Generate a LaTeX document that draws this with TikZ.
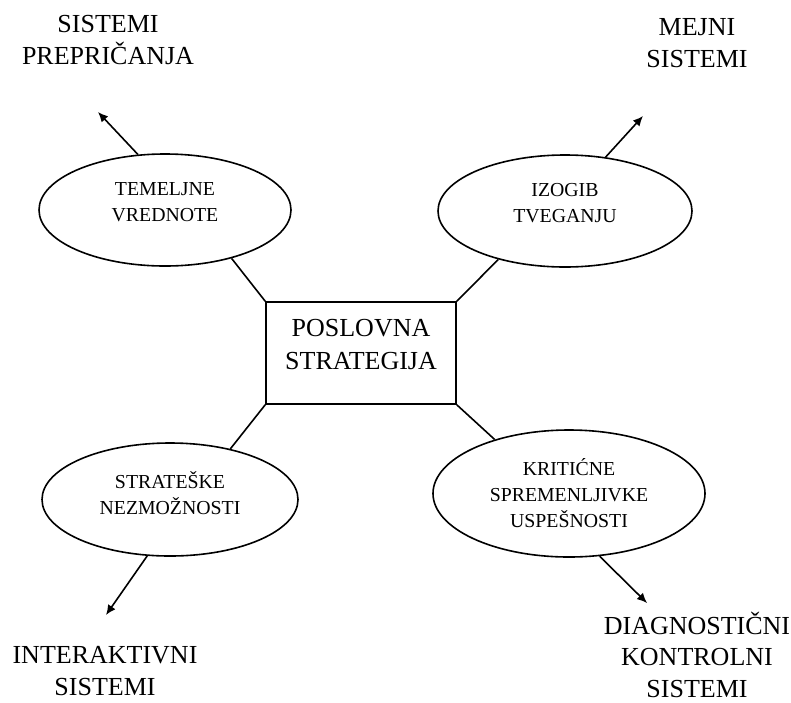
\documentclass[tikz,border=0pt]{standalone}
\usepackage{fontspec}
\setmainfont{Liberation Serif}
\usetikzlibrary{shapes.geometric,arrows.meta}

\begin{document}
\begin{tikzpicture}[x=0.5pt,y=-0.5pt,
  every node/.style={inner sep=0pt},
  ell/.style={draw,ellipse,line width=0.8pt,align=center,font=\fontsize{9.9}{13}\selectfont},
  box/.style={draw,rectangle,line width=0.8pt,align=center,minimum width=95pt,minimum height=51pt,font=\fontsize{13}{16.5}\selectfont},
  lbl/.style={align=center,font=\fontsize{13}{15.75}\selectfont},
  link/.style={line width=0.8pt},
  arr/.style={line width=0.8pt,-{Latex[length=5pt,width=4.5pt]}}]
\useasboundingbox (0,0) rectangle (791,702);
\node[box,text depth=8.5pt] (ps) at (361,353) {POSLOVNA\\STRATEGIJA};
\node[ell,minimum width=126pt,minimum height=56pt,text depth=8pt] (tv) at (165,210) {TEMELJNE\\VREDNOTE};
\node[ell,minimum width=127pt,minimum height=56pt,text depth=8pt] (it) at (565,211) {IZOGIB\\TVEGANJU};
\node[ell,minimum width=128pt,minimum height=56.5pt,text depth=7pt] (sn) at (170,499.5) {STRATEŠKE\\NEZMOŽNOSTI};
\node[ell,minimum width=136pt,minimum height=63.5pt] (ks) at (569,493.5) {KRITIĆNE\\SPREMENLJIVKE\\USPEŠNOSTI};
\node[lbl] (sp) at (108,40) {SISTEMI\\PREPRIČANJA};
\node[lbl] (ms) at (697,43) {MEJNI\\SISTEMI};
\node[lbl] (is) at (105,671) {INTERAKTIVNI\\SISTEMI};
\node[lbl] (dks) at (697,654.5) {DIAGNOSTIČNI\\KONTROLNI\\SISTEMI};
\coordinate (sp-tip) at (98,112);
\coordinate (ms-tip) at (643,116);
\coordinate (is-tip) at (106,615);
\coordinate (dks-tip) at (647,603);
\draw[link] (ps.north west) -- (tv.-36);
\draw[link] (ps.north east) -- (it.-144);
\draw[link] (ps.south west) -- (sn.40);
\draw[link] (ps.south east) -- (ks.144);
\draw[arr] (tv.116) -- (sp-tip);
\draw[arr] (it.53) -- (ms-tip);
\draw[arr] (sn.-112) -- (is-tip);
\draw[arr] (ks.-64) -- (dks-tip);
\end{tikzpicture}
\end{document}
